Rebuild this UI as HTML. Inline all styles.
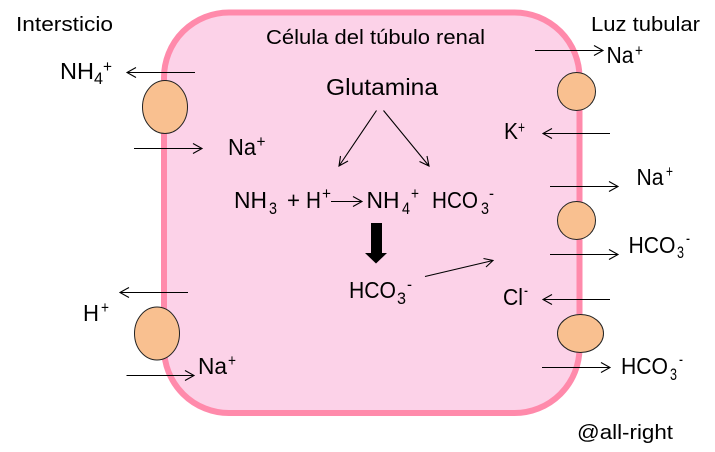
<!DOCTYPE html>
<html>
<head>
<meta charset="utf-8">
<style>
html,body{margin:0;padding:0;background:#fff;}
svg{display:block;}
text{font-family:"Liberation Sans",sans-serif;fill:#000;}
.s{font-size:20px;}
.b{font-size:23px;}
.u{font-size:17px;}
.a{fill:none;stroke:#000;stroke-width:1.1;}
</style>
</head>
<body>
<svg width="715" height="452" viewBox="0 0 715 452" xmlns="http://www.w3.org/2000/svg">
<rect width="715" height="452" fill="#fff"/>
<rect x="164" y="12.5" width="415.5" height="400.500" rx="65" ry="65" fill="#FCD2E8" stroke="#FF8AAB" stroke-width="6"/>
<g fill="#F9C090" stroke="#222" stroke-width="1">
<ellipse cx="165" cy="107" rx="22.5" ry="26.5"/>
<ellipse cx="157" cy="333.5" rx="22.5" ry="26.5"/>
<circle cx="576.5" cy="91.5" r="19"/>
<circle cx="576.5" cy="220.5" r="19"/>
<ellipse cx="580.5" cy="333.5" rx="23" ry="19"/>
</g>
<g class="a">
<path d="M195 72.500H127M136 67.500L127 72.500L136 77.500"/>
<path d="M134 148.500H202M193 143.500L202 148.500L193 153.500"/>
<path d="M188 292.500H120M129 287.500L120 292.500L129 297.500"/>
<path d="M126.500 375.500H194M185 370.500L194 375.500L185 380.500"/>
<path d="M535 50.500H603M594 45.500L603 50.500L594 55.500"/>
<path d="M610 133.500H543M552 128.500L543 133.500L552 138.500"/>
<path d="M550 186.500H618M609 181.500L618 186.500L609 191.500"/>
<path d="M550 254.500H618M609 249.500L618 254.500L609 259.500"/>
<path d="M610 299.500H543M552 294.500L543 299.500L552 304.500"/>
<path d="M542 367.500H610M601 362.500L610 367.500L601 372.500"/>
<path d="M376.500 110.500L339 166M340.500 156L339 166L348 161"/>
<path d="M383.500 110.500L429 166M419.500 161.500L429 166L427 156"/>
<path d="M331 201.500H362M353 196.500L362 201.500L353 206.500"/>
<path d="M425 276.500L493 260.500M483.500 258.500L493 260.500L486 267"/>
</g>
<polygon points="371,223 382,223 382,253 387,253 376,263.500 365,253 371,253" fill="#000"/>

<text class="s" x="16" y="31" textLength="97" lengthAdjust="spacingAndGlyphs">Intersticio</text>
<text class="s" x="266" y="44" textLength="219" lengthAdjust="spacingAndGlyphs">Célula del túbulo renal</text>
<text class="s" x="591" y="31" textLength="109" lengthAdjust="spacingAndGlyphs">Luz tubular</text>
<text class="s" x="577" y="439" textLength="96" lengthAdjust="spacingAndGlyphs">@all-right</text>
<text class="b" x="326" y="95" textLength="112" lengthAdjust="spacingAndGlyphs">Glutamina</text>

<text class="b" x="60" y="79" textLength="34" lengthAdjust="spacingAndGlyphs">NH</text>
<text class="u" x="94" y="84" textLength="9" lengthAdjust="spacingAndGlyphs">4</text>
<text class="u" x="103" y="72" textLength="9" lengthAdjust="spacingAndGlyphs">+</text>

<text class="b" x="228" y="155" textLength="28" lengthAdjust="spacingAndGlyphs">Na</text>
<text class="u" x="256.500" y="147" textLength="9" lengthAdjust="spacingAndGlyphs">+</text>

<text class="b" x="234" y="208" textLength="33" lengthAdjust="spacingAndGlyphs">NH</text>
<text class="u" x="269" y="214" textLength="8" lengthAdjust="spacingAndGlyphs">3</text>
<text class="b" x="287" y="208" textLength="13" lengthAdjust="spacingAndGlyphs">+</text>
<text class="b" x="306" y="208" textLength="15" lengthAdjust="spacingAndGlyphs">H</text>
<text class="u" x="322" y="199" textLength="9" lengthAdjust="spacingAndGlyphs">+</text>
<text class="b" x="366.500" y="208" textLength="33" lengthAdjust="spacingAndGlyphs">NH</text>
<text class="u" x="402" y="214" textLength="8" lengthAdjust="spacingAndGlyphs">4</text>
<text class="u" x="411" y="199" textLength="8" lengthAdjust="spacingAndGlyphs">+</text>
<text class="b" x="432" y="208" textLength="46" lengthAdjust="spacingAndGlyphs">HCO</text>
<text class="u" x="481" y="214" textLength="8" lengthAdjust="spacingAndGlyphs">3</text>
<text class="u" x="489" y="199" textLength="5" lengthAdjust="spacingAndGlyphs">-</text>

<text class="b" x="349" y="298" textLength="47" lengthAdjust="spacingAndGlyphs">HCO</text>
<text class="u" x="397" y="304" textLength="9" lengthAdjust="spacingAndGlyphs">3</text>
<text class="u" x="407" y="290" textLength="5" lengthAdjust="spacingAndGlyphs">-</text>

<text class="b" x="606.500" y="63" textLength="27" lengthAdjust="spacingAndGlyphs">Na</text>
<text class="u" x="635" y="56" textLength="8" lengthAdjust="spacingAndGlyphs">+</text>

<text class="b" x="504" y="139" textLength="14" lengthAdjust="spacingAndGlyphs">K</text>
<text class="u" x="518" y="133" textLength="7" lengthAdjust="spacingAndGlyphs">+</text>

<text class="b" x="636.500" y="185" textLength="27" lengthAdjust="spacingAndGlyphs">Na</text>
<text class="u" x="666" y="177" textLength="7" lengthAdjust="spacingAndGlyphs">+</text>

<text class="b" x="628.500" y="253" textLength="47" lengthAdjust="spacingAndGlyphs">HCO</text>
<text class="u" x="677" y="258" textLength="7" lengthAdjust="spacingAndGlyphs">3</text>
<text class="u" x="686" y="244" textLength="4" lengthAdjust="spacingAndGlyphs">-</text>

<text class="b" x="503" y="305" textLength="20" lengthAdjust="spacingAndGlyphs">Cl</text>
<text class="u" x="524" y="296" textLength="4" lengthAdjust="spacingAndGlyphs">-</text>

<text class="b" x="621" y="374" textLength="47" lengthAdjust="spacingAndGlyphs">HCO</text>
<text class="u" x="670" y="380" textLength="7" lengthAdjust="spacingAndGlyphs">3</text>
<text class="u" x="679" y="365" textLength="4" lengthAdjust="spacingAndGlyphs">-</text>

<text class="b" x="83" y="321" textLength="16" lengthAdjust="spacingAndGlyphs">H</text>
<text class="u" x="101" y="313" textLength="8" lengthAdjust="spacingAndGlyphs">+</text>

<text class="b" x="198" y="374" textLength="29" lengthAdjust="spacingAndGlyphs">Na</text>
<text class="u" x="228" y="366" textLength="8" lengthAdjust="spacingAndGlyphs">+</text>
</svg>
</body>
</html>
